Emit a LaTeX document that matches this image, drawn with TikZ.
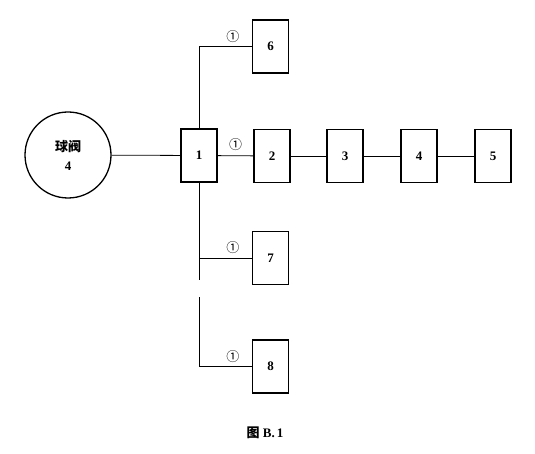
\documentclass[tikz,border=0pt]{standalone}
\usepackage{fontspec}
\setmainfont{Liberation Serif}
\newfontfamily\cjk{Noto Sans CJK SC}
\usetikzlibrary{positioning,calc}
\tikzset{
  unit/.style={draw, line width=1.3pt, minimum width=36pt, minimum height=53pt,
    inner sep=0pt, font=\bfseries\fontsize{13}{15}\selectfont},
  valve/.style={circle, draw, line width=1.3pt, minimum size=86pt, inner sep=0pt,
    align=center, font=\bfseries\fontsize{13}{19}\selectfont},
  pipe/.style={draw, line width=0.8pt},
  numtag/.style={font=\cjk\fontsize{13}{13}\selectfont, inner sep=1.5pt},
  caption/.style={font=\bfseries\fontsize{13}{15}\selectfont}
}
\begin{document}
\begin{tikzpicture}[x=1pt, y=-1pt]
    \useasboundingbox (0,0) rectangle (535,454);
    % valve and main line
    \node[valve] (valve) at (68,155) {{\cjk 球阀}\\4};
    \node[unit] (b1) at (199,155.5) {1};
    \foreach \x/\n in {272/2, 345/3, 419/4, 493/5}{
      \node[unit] (b\n) at (\x,156) {\n};
    }
    % branches
    \node[unit] (b6) at (270.5,46.5) {6};
    \node[unit] (b7) at (270.5,258) {7};
    \node[unit] (b8) at (270.5,366.5) {8};
    \coordinate (gap) at (199,297);
    \draw[pipe] (valve) -- (b1);
    \draw[pipe] (b1) -- (b2) node[numtag, midway, above=3pt]{①};
    \draw[pipe] (b2) -- (b3);
    \draw[pipe] (b3) -- (b4);
    \draw[pipe] (b4) -- (b5);
    \draw[pipe] (b1.north) |- (b6.west) node[numtag, pos=0.82, above=2pt]{①};
    \draw[pipe] (b1.south) |- (b7.west) node[numtag, pos=0.82, above=2pt]{①};
    \draw[pipe] (b1.south) -- ($(gap)+(0,-17)$);
    \draw[pipe] (gap) |- (b8.west) node[numtag, pos=0.82, above=2pt]{①};
    % caption
    \node[caption] (cap) at (265,433) {{\cjk 图} B.\,1};
  \end{tikzpicture}
\end{document}
